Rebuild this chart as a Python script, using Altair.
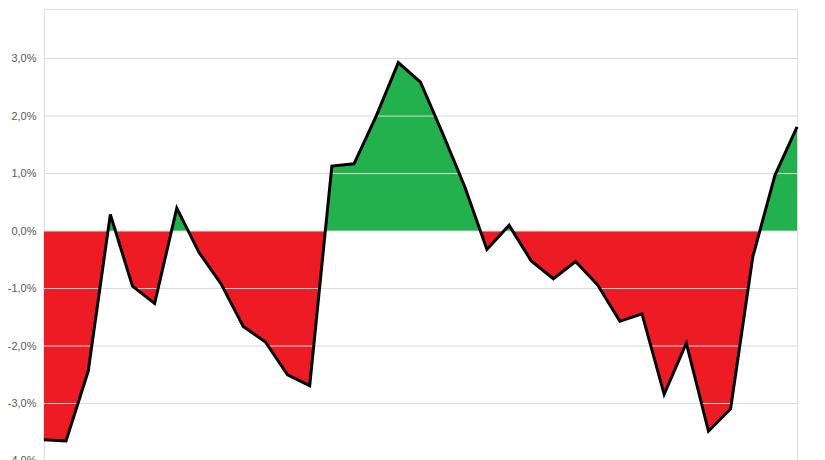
import altair as alt
import pandas as pd

periods = list(range(1, 36))
returns = [-3.63, -3.65, -2.44, 0.29, -0.96, -1.26, 0.40, -0.37, -0.92, -1.66,
           -1.93, -2.50, -2.69, 1.13, 1.17, 2.00, 2.93, 2.59, 1.70, 0.77,
           -0.32, 0.10, -0.52, -0.83, -0.53, -0.94, -1.57, -1.44, -2.84, -1.95,
           -3.48, -3.09, -0.45, 0.97, 1.81]
y_ticks = [-4, -3, -2, -1, 0, 1, 2, 3]

GREEN = "#22B14C"
RED = "#ED1C24"

df = pd.DataFrame({"period": periods, "ret": returns})
grid_df = pd.DataFrame({"ret": y_ticks})

# split point of the fill gradient at the zero level (fraction of the area's height)
vmax = max(max(returns), 0)
vmin = min(min(returns), 0)
split = vmax / (vmax - vmin)

xenc = alt.X("period:Q", scale=alt.Scale(domain=[min(periods), max(periods)], nice=False, zero=False), axis=None)
yscale = alt.Scale(domain=[-4.107, 3.865], nice=False, zero=False)

label_expr = "(datum.value < 0 ? '-' : '') + replace(format(abs(datum.value), '.1f'), '.', ',') + '%'"
yaxis = alt.Axis(
    values=y_ticks, grid=False, ticks=False, domain=False, title=None,
    labelExpr=label_expr, labelFont="Liberation Sans", labelFontSize=11,
    labelColor="#595959", labelPadding=8)

fill = alt.Gradient(
    gradient="linear",
    stops=[
        alt.GradientStop(color=GREEN, offset=0),
        alt.GradientStop(color=GREEN, offset=split),
        alt.GradientStop(color=RED, offset=split),
        alt.GradientStop(color=RED, offset=1),
    ],
    x1=0, x2=0, y1=0, y2=1,
)

area = alt.Chart(df).mark_area(color=fill, opacity=1).encode(
    x=xenc,
    y=alt.Y("ret:Q", scale=yscale, axis=yaxis),
    y2=alt.datum(0),
)

grid = alt.Chart(grid_df).mark_rule(color="#d9d9d9", strokeWidth=1).encode(
    y=alt.Y("ret:Q", scale=yscale, axis=yaxis)
)

line = alt.Chart(df).mark_line(color="black", strokeWidth=3).encode(
    x=xenc,
    y=alt.Y("ret:Q", scale=yscale, axis=yaxis),
)

chart = alt.layer(area, grid, line).properties(
    width=756,
    height=460,
    padding={"left": 36, "top": 0, "right": 20, "bottom": 0},
    autosize=alt.AutoSizeParams(type="none"),
).configure_view(stroke="#d9d9d9", strokeWidth=1).configure(background="white")

chart.save("out.html", embed_options={"renderer": "svg", "actions": False})
